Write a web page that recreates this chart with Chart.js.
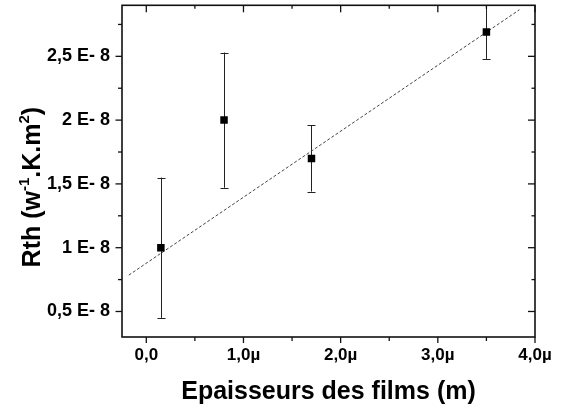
<!doctype html>
<html lang="fr">
<head>
<meta charset="utf-8">
<title>Rth</title>
<script src="https://cdn.jsdelivr.net/npm/chart.js@4.4.0/dist/chart.umd.min.js"></script>
<style>
  body { margin: 0; background: #fff; }
</style>
</head>
<body>
<canvas id="myChart" width="563" height="410"></canvas>

<script>
// data (x in µm, Rth in units of 1E-8)
var epaisseurs = [0.15, 0.80, 1.70, 3.50];
var rth = [1.00, 2.00, 1.70, 2.69];
var rthErr = [0.55, 0.53, 0.26, 0.21];
// dashed linear fit, two ends
var fitX = [-0.18, 3.84];
var fitY = [0.785, 2.865];

var xTicks = [0, 1, 2, 3, 4];
var xTickLabels = ['0,0', '1,0µ', '2,0µ', '3,0µ', '4,0µ'];
var yTicks = [0.5, 1, 1.5, 2, 2.5];
var yTickLabels = ['0,5 E- 8', '1 E- 8', '1,5 E- 8', '2 E- 8', '2,5 E- 8'];

var FONT = "'Liberation Sans', Arial, sans-serif";
</script>

<script>
function minorsOf(list, min, max) {
  var out = [];
  var step = list[1] - list[0];
  for (var i = -1; i < list.length; i++) {
    var v = list[0] + (i + 0.5) * step;
    if (v > min && v < max) out.push(v);
  }
  return out;
}

var errorBars = {
  id: 'errorBars',
  beforeDatasetsDraw(chart) {
    var c = chart.ctx, a = chart.chartArea;
    var xs = chart.scales.x, ys = chart.scales.y;
    c.save();
    c.beginPath();
    c.rect(a.left, a.top - 1, a.right - a.left, a.bottom - a.top + 2);
    c.clip();
    c.strokeStyle = '#222';
    c.lineWidth = 1;
    for (var i = 0; i < epaisseurs.length; i++) {
      var px = Math.round(xs.getPixelForValue(epaisseurs[i])) + 0.5;
      var hi = ys.getPixelForValue(rth[i] + rthErr[i]);
      var lo = ys.getPixelForValue(rth[i] - rthErr[i]);
      c.beginPath();
      c.moveTo(px, hi); c.lineTo(px, lo);
      c.moveTo(px - 4, Math.round(hi) + 0.5); c.lineTo(px + 4, Math.round(hi) + 0.5);
      c.moveTo(px - 4, Math.round(lo) + 0.5); c.lineTo(px + 4, Math.round(lo) + 0.5);
      c.stroke();
    }
    c.restore();
  }
};

var frame = {
  id: 'frame',
  afterDraw(chart) {
    var c = chart.ctx, a = chart.chartArea;
    var xs = chart.scales.x, ys = chart.scales.y;
    c.save();
    c.strokeStyle = '#111';
    c.lineWidth = 1.6;
    c.strokeRect(a.left, a.top, a.right - a.left, a.bottom - a.top);
    c.lineWidth = 1.3;
    function seg(x1, y1, x2, y2) { c.beginPath(); c.moveTo(x1, y1); c.lineTo(x2, y2); c.stroke(); }
    xTicks.forEach(function (v) {
      var p = xs.getPixelForValue(v);
      seg(p, a.bottom, p, a.bottom + 6);
      seg(p, a.top, p, a.top + 7);
    });
    minorsOf(xTicks, xs.min, xs.max).forEach(function (v) {
      var p = xs.getPixelForValue(v);
      seg(p, a.bottom, p, a.bottom + 4);
      seg(p, a.top, p, a.top + 3.5);
    });
    yTicks.forEach(function (v) {
      var p = ys.getPixelForValue(v);
      seg(a.left, p, a.left - 6.5, p);
      seg(a.right, p, a.right - 7, p);
    });
    minorsOf(yTicks, ys.min, ys.max).forEach(function (v) {
      var p = ys.getPixelForValue(v);
      seg(a.left, p, a.left - 4, p);
      seg(a.right, p, a.right - 3.5, p);
    });

    // y axis title with superscripts
    var parts = [
      ['Rth (w', 25, 0], ['-1', 15, -11], ['.K.m', 25, 0], ['2', 15, -11], [')', 25, 0]
    ];
    var total = 0;
    parts.forEach(function (p) {
      c.font = 'bold ' + p[1] + 'px ' + FONT;
      total += c.measureText(p[0]).width;
    });
    c.translate(40, (a.top + a.bottom) / 2 + 16);
    c.rotate(-Math.PI / 2);
    c.fillStyle = '#000';
    c.textBaseline = 'alphabetic';
    var x = -total / 2;
    parts.forEach(function (p) {
      c.font = 'bold ' + p[1] + 'px ' + FONT;
      c.fillText(p[0], x, p[2]);
      x += c.measureText(p[0]).width;
    });
    c.restore();
  }
};

function noPad(s) {
  s.paddingTop = 0; s.paddingBottom = 0; s.paddingLeft = 0; s.paddingRight = 0;
}

var ctx = document.getElementById('myChart').getContext('2d');
var myChart = new Chart(ctx, {
  type: 'scatter',
  data: {
    datasets: [{
      label: 'Rth',
      data: epaisseurs.map(function (x, i) { return {x: x, y: rth[i]}; }),
      pointStyle: 'rect',
      pointRadius: 5.3,
      backgroundColor: '#000',
      borderColor: '#000',
      borderWidth: 0,
      order: 0
    }, {
      label: 'fit',
      type: 'line',
      data: fitX.map(function (x, i) { return {x: x, y: fitY[i]}; }),
      borderColor: '#444',
      borderWidth: 1,
      borderDash: [3, 2],
      pointRadius: 0,
      fill: false,
      order: 1
    }]
  },
  options: {
    responsive: false,
    animation: false,
    layout: {padding: {top: 4, right: 28, left: 0, bottom: 0}},
    plugins: {legend: {display: false}, tooltip: {enabled: false}},
    scales: {
      x: {
        type: 'linear',
        min: -0.25, max: 4,
        afterBuildTicks: function (s) { s.ticks = xTicks.map(function (v) { return {value: v}; }); },
        afterFit: function (s) { s.height = 73; noPad(s); },
        ticks: {
          callback: function (v) { return xTickLabels[xTicks.indexOf(v)]; },
          font: {family: FONT, size: 17, weight: 'bold'},
          color: '#000', padding: 2, maxRotation: 0, autoSkip: false
        },
        grid: {drawOnChartArea: false, tickLength: 6, color: 'rgba(0,0,0,0)'},
        border: {display: false},
        title: {
          display: true, text: 'Epaisseurs des films (m)',
          font: {family: FONT, size: 25, weight: 'bold'},
          color: '#000', padding: {top: 0, bottom: 3}
        }
      },
      y: {
        type: 'linear',
        min: 0.3, max: 2.9,
        afterBuildTicks: function (s) { s.ticks = yTicks.map(function (v) { return {value: v}; }); },
        afterFit: function (s) { s.width = 122; noPad(s); },
        ticks: {
          callback: function (v) { return yTickLabels[yTicks.indexOf(v)]; },
          font: {family: FONT, size: 18, weight: 'bold'},
          color: '#000', padding: 6
        },
        grid: {drawOnChartArea: false, tickLength: 6, color: 'rgba(0,0,0,0)'},
        border: {display: false}
      }
    }
  },
  plugins: [errorBars, frame]
});
</script>
</body>
</html>
